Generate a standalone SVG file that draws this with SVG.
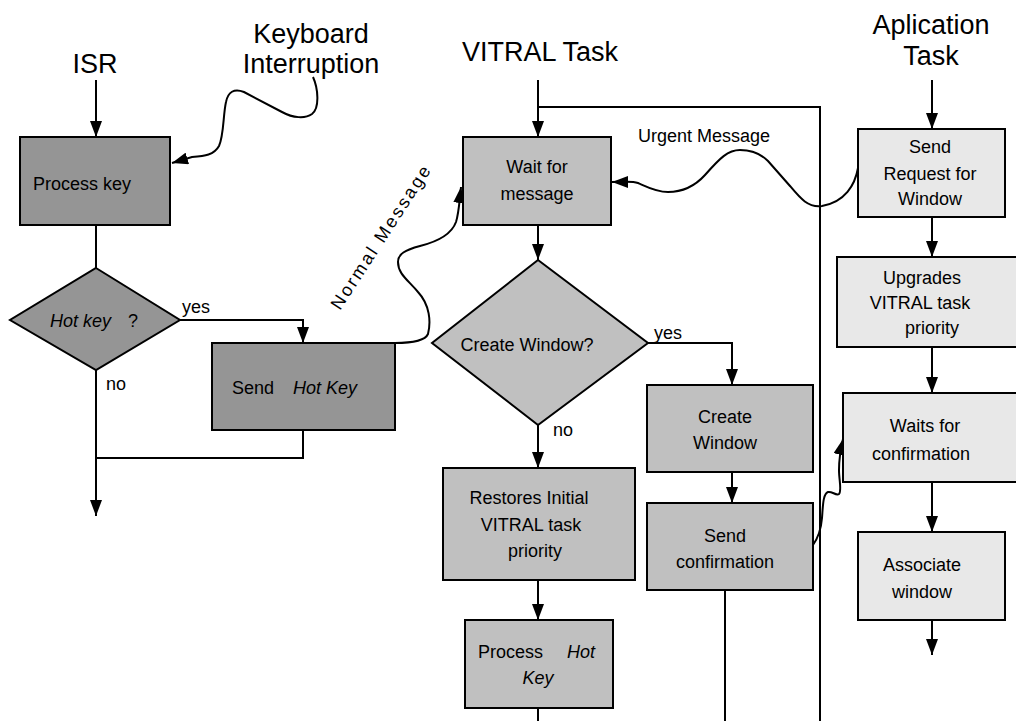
<svg xmlns="http://www.w3.org/2000/svg" width="1016" height="721" viewBox="0 0 1016 721">
  <style>
    .t { font-family: "Liberation Sans", Arial, sans-serif; fill: #000; }
    .title { font-size: 27px; text-anchor: middle; }
    .lbl { font-size: 18px; }
    .c { text-anchor: middle; }
    .i { font-style: italic; }
    .box { stroke: #000; stroke-width: 2; }
    .isr { fill: #959595; }
    .vit { fill: #c0c0c0; }
    .app { fill: #e8e8e8; }
    .ln { fill: none; stroke: #000; stroke-width: 2; }
    .arr { marker-end: url(#ah); }
  </style>
  <defs>
    <marker id="ah" viewBox="0 0 16 12" refX="16" refY="6" markerWidth="16" markerHeight="12" markerUnits="userSpaceOnUse" orient="auto">
      <path d="M0,0 L16,6 L0,12 Z" fill="#000"/>
    </marker>
  </defs>
  <rect width="1016" height="721" fill="#fff"/>

  <!-- column headings -->
  <g id="headings" class="t title">
    <text x="95" y="73">ISR</text>
    <text x="311" y="43">Keyboard</text>
    <text x="311" y="73">Interruption</text>
    <text x="540" y="61">VITRAL Task</text>
    <text x="931" y="34">Aplication</text>
    <text x="931" y="65">Task</text>
  </g>

  <!-- connectors -->
  <g id="connectors">
    <path class="ln arr" d="M96,80 V137"/>
    <path class="ln" d="M96,225 V268"/>
    <path class="ln arr" d="M96,370 V516"/>
    <path class="ln arr" d="M180,320 H303 V343"/>
    <path class="ln" d="M303,430 V458 H96"/>
    <path class="ln arr" d="M313,77 C318,88 320,108 312,114 C305,119 293,118 282,112 L244,92 C234,88 228,92 226,102 C223,115 224,135 219,146 C214,155 205,156 192,157 L172,163"/>

    <path class="ln arr" d="M538,80 V137"/>
    <path class="ln" d="M538,107 H820 V721"/>
    <path class="ln arr" d="M538,225 V260"/>
    <path class="ln arr" d="M648,343 H732 V385"/>
    <path class="ln arr" d="M538,425 V468"/>
    <path class="ln arr" d="M732,472 V503"/>
    <path class="ln" d="M725,590 V721"/>
    <path class="ln arr" d="M538,580 V620"/>
    <path class="ln" d="M538,708 V721"/>
    <path class="ln arr" d="M395,343 C410,343 425,341 428,334 C431,322 430,305 418,292 C408,280 398,274 398,262 C398,254 405,250 420,246 C440,241 452,233 456,222 C459,212 459,205 461,187"/>
    <path class="ln arr" d="M858,168 C855,185 845,202 822,206 C808,208 800,198 790,186 L768,161 C760,153 752,150 740,150 C728,150 720,158 705,175 C695,186 682,192 668,192 C656,192 645,186 638,183 C632,181 628,182 612,182"/>

    <path class="ln arr" d="M932,80 V129"/>
    <path class="ln arr" d="M932,217 V257"/>
    <path class="ln arr" d="M932,347 V393"/>
    <path class="ln arr" d="M932,482 V532"/>
    <path class="ln arr" d="M932,620 V655"/>
    <path class="ln arr" d="M813,545 C818,538 821,530 822,518 C823,505 823,494 828,492 C832,491 836,496 839,494 C842,491 839,480 839,470 C839,460 840,452 843,439"/>
  </g>

  <!-- connector labels -->
  <g id="connector-labels" class="t lbl">
    <text x="182" y="313">yes</text>
    <text x="106" y="390">no</text>
    <text x="654" y="339">yes</text>
    <text x="553" y="436">no</text>
    <text x="638" y="142">Urgent Message</text>
    <text x="340" y="311" letter-spacing="2.4" transform="rotate(-57 340 311)">Normal Message</text>
  </g>

  <!-- ISR nodes -->
  <g id="process-key">
    <rect class="box isr" x="20" y="137" width="150" height="88"/>
    <text class="t lbl" x="33" y="190">Process key</text>
  </g>
  <g id="hot-key-decision">
    <polygon class="box isr" points="96,268 180,320 96,370 10,320"/>
    <text class="t lbl" x="50" y="327"><tspan class="i">Hot key</tspan><tspan x="128">?</tspan></text>
  </g>
  <g id="send-hot-key">
    <rect class="box isr" x="212" y="343" width="183" height="87"/>
    <text class="t lbl" x="232" y="394">Send <tspan class="i" x="293">Hot Key</tspan></text>
  </g>

  <!-- VITRAL task nodes -->
  <g id="wait-for-message">
    <rect class="box vit" x="463" y="137" width="148" height="88"/>
    <text class="t lbl c" x="537" y="173">Wait for</text>
    <text class="t lbl c" x="537" y="200">message</text>
  </g>
  <g id="create-window-decision">
    <polygon class="box vit" points="538,260 648,343 538,425 432,343"/>
    <text class="t lbl c" x="527" y="351">Create Window?</text>
  </g>
  <g id="create-window">
    <rect class="box vit" x="647" y="385" width="166" height="87"/>
    <text class="t lbl c" x="725" y="423">Create</text>
    <text class="t lbl c" x="725" y="449">Window</text>
  </g>
  <g id="send-confirmation">
    <rect class="box vit" x="647" y="503" width="166" height="87"/>
    <text class="t lbl c" x="725" y="542">Send</text>
    <text class="t lbl c" x="725" y="568">confirmation</text>
  </g>
  <g id="restores-priority">
    <rect class="box vit" x="443" y="468" width="192" height="112"/>
    <text class="t lbl c" x="529" y="504">Restores Initial</text>
    <text class="t lbl c" x="531" y="531">VITRAL task</text>
    <text class="t lbl c" x="535" y="557">priority</text>
  </g>
  <g id="process-hot-key">
    <rect class="box vit" x="465" y="620" width="148" height="88"/>
    <text class="t lbl" x="478" y="658">Process <tspan class="i" x="567">Hot</tspan></text>
    <text class="t lbl c i" x="538" y="684">Key</text>
  </g>

  <!-- application task nodes -->
  <g id="send-request">
    <rect class="box app" x="858" y="129" width="147" height="88"/>
    <text class="t lbl c" x="930" y="153">Send</text>
    <text class="t lbl c" x="930" y="180">Request for</text>
    <text class="t lbl c" x="930" y="205">Window</text>
  </g>
  <g id="upgrades-priority">
    <rect class="box app" x="837" y="257" width="190" height="90"/>
    <text class="t lbl c" x="922" y="284">Upgrades</text>
    <text class="t lbl c" x="920" y="309">VITRAL task</text>
    <text class="t lbl c" x="932" y="334">priority</text>
  </g>
  <g id="waits-confirmation">
    <rect class="box app" x="843" y="393" width="184" height="89"/>
    <text class="t lbl c" x="925" y="432">Waits for</text>
    <text class="t lbl c" x="921" y="460">confirmation</text>
  </g>
  <g id="associate-window">
    <rect class="box app" x="858" y="532" width="147" height="88"/>
    <text class="t lbl c" x="922" y="571">Associate</text>
    <text class="t lbl c" x="922" y="598">window</text>
  </g>
</svg>
